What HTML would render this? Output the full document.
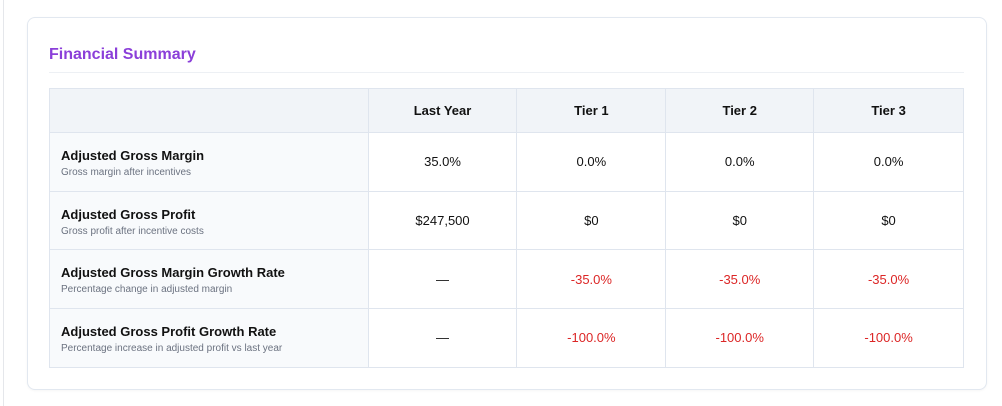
<!DOCTYPE html>
<html><head><meta charset="utf-8"><style>
*{box-sizing:border-box;margin:0;padding:0}
body{width:1002px;height:406px;background:#fff;font-family:"Liberation Sans",sans-serif;position:relative;overflow:hidden}
.edge{position:absolute;left:3px;top:0;width:1px;height:406px;background:#e5e7eb}
.card{position:absolute;left:27px;top:17px;width:960px;height:373px;border:1px solid #e2e8f0;border-radius:8px;background:#fff;box-shadow:0 1px 2px rgba(0,0,0,.04)}
.title{position:absolute;left:49px;top:46px;font-size:16px;font-weight:bold;color:#8b3fd9}
.rule{position:absolute;left:49px;top:72px;width:915px;height:1px;background:#edf0f4}
table{position:absolute;left:49px;top:88px;width:915px;border-collapse:collapse}
td,th{border:1px solid #dfe5ee;text-align:center;font-size:13px;color:#111}
th{height:44px;background:#f1f4f8;font-weight:bold}
td{height:58.7px}
td.lab{text-align:left;padding-left:11px;background:#f8fafc;padding-top:2px}
.l1{font-size:13px;font-weight:bold;color:#111}
.l2{font-size:10px;color:#6b7280;margin-top:4px}
.neg{color:#dc2626}
</style></head><body>
<div class="edge"></div>
<div class="card"></div>
<div class="title">Financial Summary</div>
<div class="rule"></div>
<table>
<colgroup><col style="width:319px"><col style="width:149px"><col style="width:149px"><col style="width:148px"><col style="width:150px"></colgroup>
<tr><th></th><th>Last Year</th><th>Tier 1</th><th>Tier 2</th><th>Tier 3</th></tr>
<tr><td class="lab"><div class="l1">Adjusted Gross Margin</div><div class="l2">Gross margin after incentives</div></td><td>35.0%</td><td>0.0%</td><td>0.0%</td><td>0.0%</td></tr>
<tr><td class="lab"><div class="l1">Adjusted Gross Profit</div><div class="l2">Gross profit after incentive costs</div></td><td>$247,500</td><td>$0</td><td>$0</td><td>$0</td></tr>
<tr><td class="lab"><div class="l1">Adjusted Gross Margin Growth Rate</div><div class="l2">Percentage change in adjusted margin</div></td><td>—</td><td class="neg">-35.0%</td><td class="neg">-35.0%</td><td class="neg">-35.0%</td></tr>
<tr><td class="lab"><div class="l1">Adjusted Gross Profit Growth Rate</div><div class="l2">Percentage increase in adjusted profit vs last year</div></td><td>—</td><td class="neg">-100.0%</td><td class="neg">-100.0%</td><td class="neg">-100.0%</td></tr>
</table>
</body></html>
